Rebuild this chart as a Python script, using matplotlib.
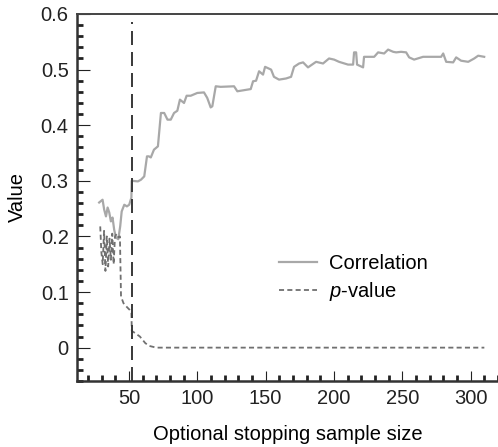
import matplotlib
matplotlib.use("Agg")
import matplotlib.pyplot as plt
from matplotlib.ticker import MultipleLocator, FixedLocator

plt.rcParams['font.family'] = ['Liberation Sans', 'DejaVu Sans']
plt.rcParams['mathtext.fontset'] = 'custom'
plt.rcParams['mathtext.it'] = 'Liberation Sans:italic'
plt.rcParams['mathtext.rm'] = 'Liberation Sans'

# Correlation as a function of the stopping sample size
corr_n = [28.2, 30.7, 31.9, 33.2, 34.4, 35.6, 36.8, 38.0, 39.2, 40.5, 42.2, 43.6,
          44.7, 46.6, 48.5, 50.2, 51.8, 52.0, 56.6, 58.8, 61.2, 63.2, 64.6, 66.0,
          68.3, 71.2, 73.4, 75.8, 78.2, 80.6, 83.0, 85.4, 87.3, 90.3, 92.2, 95.2,
          100.0, 104.9, 107.3, 109.8, 111.0, 113.5, 117.1, 126.9, 129.3, 139.1,
          140.8, 143.0, 145.2, 148.1, 149.6, 154.0, 156.1, 159.8, 164.9, 168.6,
          170.8, 174.5, 177.4, 181.0, 186.9, 192.0, 196.4, 200.1, 203.7, 210.3,
          214.0, 214.7, 216.2, 216.9, 221.3, 222.0, 229.4, 232.3, 236.7, 239.6,
          243.3, 245.5, 249.1, 252.8, 255.0, 258.6, 265.2, 273.3, 278.4, 279.9,
          282.1, 287.2, 289.4, 293.0, 298.2, 302.6, 305.5, 309.9]
corr_val = [0.261, 0.266, 0.248, 0.236, 0.252, 0.243, 0.227, 0.234, 0.212, 0.198,
            0.195, 0.218, 0.245, 0.257, 0.254, 0.257, 0.270, 0.300, 0.299, 0.302,
            0.308, 0.344, 0.344, 0.342, 0.356, 0.362, 0.422, 0.422, 0.410, 0.410,
            0.422, 0.426, 0.446, 0.440, 0.453, 0.453, 0.458, 0.459, 0.449, 0.432,
            0.434, 0.470, 0.469, 0.470, 0.461, 0.465, 0.479, 0.480, 0.497, 0.491,
            0.505, 0.500, 0.487, 0.482, 0.484, 0.487, 0.505, 0.511, 0.513, 0.504,
            0.514, 0.511, 0.520, 0.518, 0.514, 0.509, 0.509, 0.531, 0.531, 0.509,
            0.504, 0.523, 0.523, 0.531, 0.529, 0.536, 0.532, 0.531, 0.532, 0.531,
            0.522, 0.518, 0.523, 0.523, 0.523, 0.529, 0.514, 0.513, 0.522, 0.516,
            0.514, 0.520, 0.525, 0.523]

# p-value of the correlation test
p_n = [29.0, 29.8, 30.8, 31.8, 32.8, 33.8, 34.8, 35.8, 36.8, 37.8, 38.8, 39.8,
       41.0, 42.5, 43.4, 44.2, 46.0, 48.5, 50.5, 51.8, 52.1, 54.0,
       58.0, 62.0, 65.0, 70.0, 100.0, 200.0, 310.0]
p_val = [0.218, 0.172, 0.150, 0.210, 0.138, 0.200, 0.146, 0.196, 0.158, 0.205,
         0.150, 0.200, 0.205, 0.198, 0.200, 0.092, 0.080, 0.073,
         0.068, 0.063, 0.030, 0.027, 0.020, 0.008, 0.003, 0.0, 0.0, 0.0, 0.0]

stop_n = 52
x_ticks = [50, 100, 150, 200, 250, 300]
y_ticks = [0, 0.1, 0.2, 0.3, 0.4, 0.5, 0.6]
y_tick_labels = ['0', '0.1', '0.2', '0.3', '0.4', '0.5', '0.6']

fig = plt.figure(figsize=(4.98, 4.47), dpi=100)
ax = fig.add_axes([77 / 498, 66 / 447, 1 - 77 / 498, 367 / 447])

ax.plot(corr_n, corr_val, color='#a8a8a8', lw=1.6, label='Correlation')
ax.plot(p_n, p_val, color='#707070', lw=1.3, dashes=(2.8, 1.8), label='$p$-value')
ax.plot([stop_n, stop_n], [-0.06, 0.585], color='#383838', lw=1.4, dashes=(7.2, 3.6))

ax.set_xlim(12, 320)
ax.set_ylim(-0.06, 0.6)

ax.xaxis.set_major_locator(FixedLocator(x_ticks))
ax.xaxis.set_minor_locator(MultipleLocator(10))
ax.yaxis.set_major_locator(FixedLocator(y_ticks))
ax.yaxis.set_minor_locator(MultipleLocator(0.02))
ax.set_yticklabels(y_tick_labels)

ax.tick_params(which='both', direction='in', top=False, right=False,
               labelsize=14.5, colors='#222222', pad=6)
ax.tick_params(axis='x', which='major', length=7, width=0.8)
ax.tick_params(axis='x', which='minor', length=4, width=2.0)
ax.tick_params(axis='y', which='major', length=9, width=0.8)
ax.tick_params(axis='y', which='minor', length=4.5, width=2.0)

for side in ['left', 'bottom']:
    ax.spines[side].set_linewidth(1.8)
    ax.spines[side].set_color('#333333')
ax.spines['top'].set_linewidth(1.4)
ax.spines['top'].set_color('#444444')
ax.spines['right'].set_visible(False)

ax.set_xlabel('Optional stopping sample size', fontsize=14.5, labelpad=12)
ax.set_ylabel('Value', fontsize=14.5, labelpad=10)

ax.legend(loc='upper left', bbox_to_anchor=(0.436, 0.396), frameon=False,
          fontsize=14.5, handlelength=1.9, handletextpad=0.6, labelspacing=0.35)

fig.savefig('out.png', dpi=100)
